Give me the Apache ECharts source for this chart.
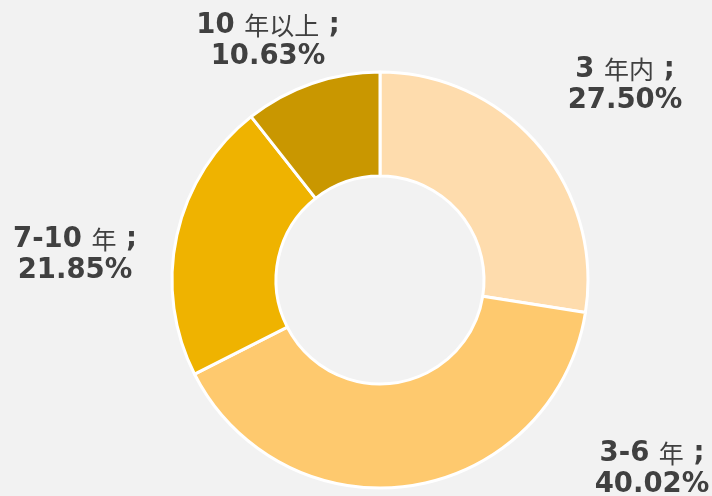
<!DOCTYPE html>
<html>
<head>
<meta charset="utf-8">
<script src="https://cdn.jsdelivr.net/npm/echarts@6/dist/echarts.min.js"></script>
<style>
  html, body { margin: 0; padding: 0; background: #f2f2f2; }
  #chart { width: 712px; height: 496px; }
</style>
</head>
<body>
<div id="chart"></div>
<script>
  // categories and shares (%)
  var categories = ['3 年内', '3-6 年', '7-10 年', '10 年以上'];
  var shares = [27.50, 40.02, 21.85, 10.63];
  var colors = ['#fedcad', '#fec96e', '#efb300', '#c99700'];
  // where each label block sits (px centre)
  var labelPos = [[625, 85], [652, 469], [75, 255], [268, 41]];

  var chart = echarts.init(document.getElementById('chart'));

  var seriesData = categories.map(function (c, i) {
    return { name: c, value: shares[i], itemStyle: { color: colors[i] } };
  });

  // wrap CJK runs in a lighter style, the rest in bold
  function richName(name) {
    var parts = name.match(/[\u4e00-\u9fff]+|[^\u4e00-\u9fff]+/g);
    return parts.map(function (s) {
      return /[\u4e00-\u9fff]/.test(s) ? '{c|' + s + '}' : '{b|' + s + '}';
    }).join('');
  }

  chart.setOption({
    backgroundColor: '#f2f2f2',
    animation: false,
    series: [{
      type: 'pie',
      center: [380, 280],
      radius: [104, 208],
      startAngle: 90,
      clockwise: true,
      itemStyle: { borderColor: '#ffffff', borderWidth: 3 },
      label: {
        show: true,
        position: 'outside',
        align: 'center',
        overflow: 'none',
        lineHeight: 31,
        formatter: function (p) {
          return richName(p.name) + '{b| ;}\n{b|' + p.value.toFixed(2) + '%}';
        },
        rich: {
          b: { fontFamily: 'DejaVu Sans', fontWeight: 'bold', fontSize: 27.5, color: '#404040', lineHeight: 31 },
          c: { fontFamily: 'Noto Sans CJK SC', fontWeight: 'normal', fontSize: 25, color: '#404040', lineHeight: 31 }
        }
      },
      labelLine: { show: false },
      labelLayout: function (params) {
        var pos = labelPos[params.dataIndex];
        return { x: pos[0], y: pos[1], align: 'center', verticalAlign: 'middle' };
      },
      data: seriesData
    }]
  });
</script>
</body>
</html>
